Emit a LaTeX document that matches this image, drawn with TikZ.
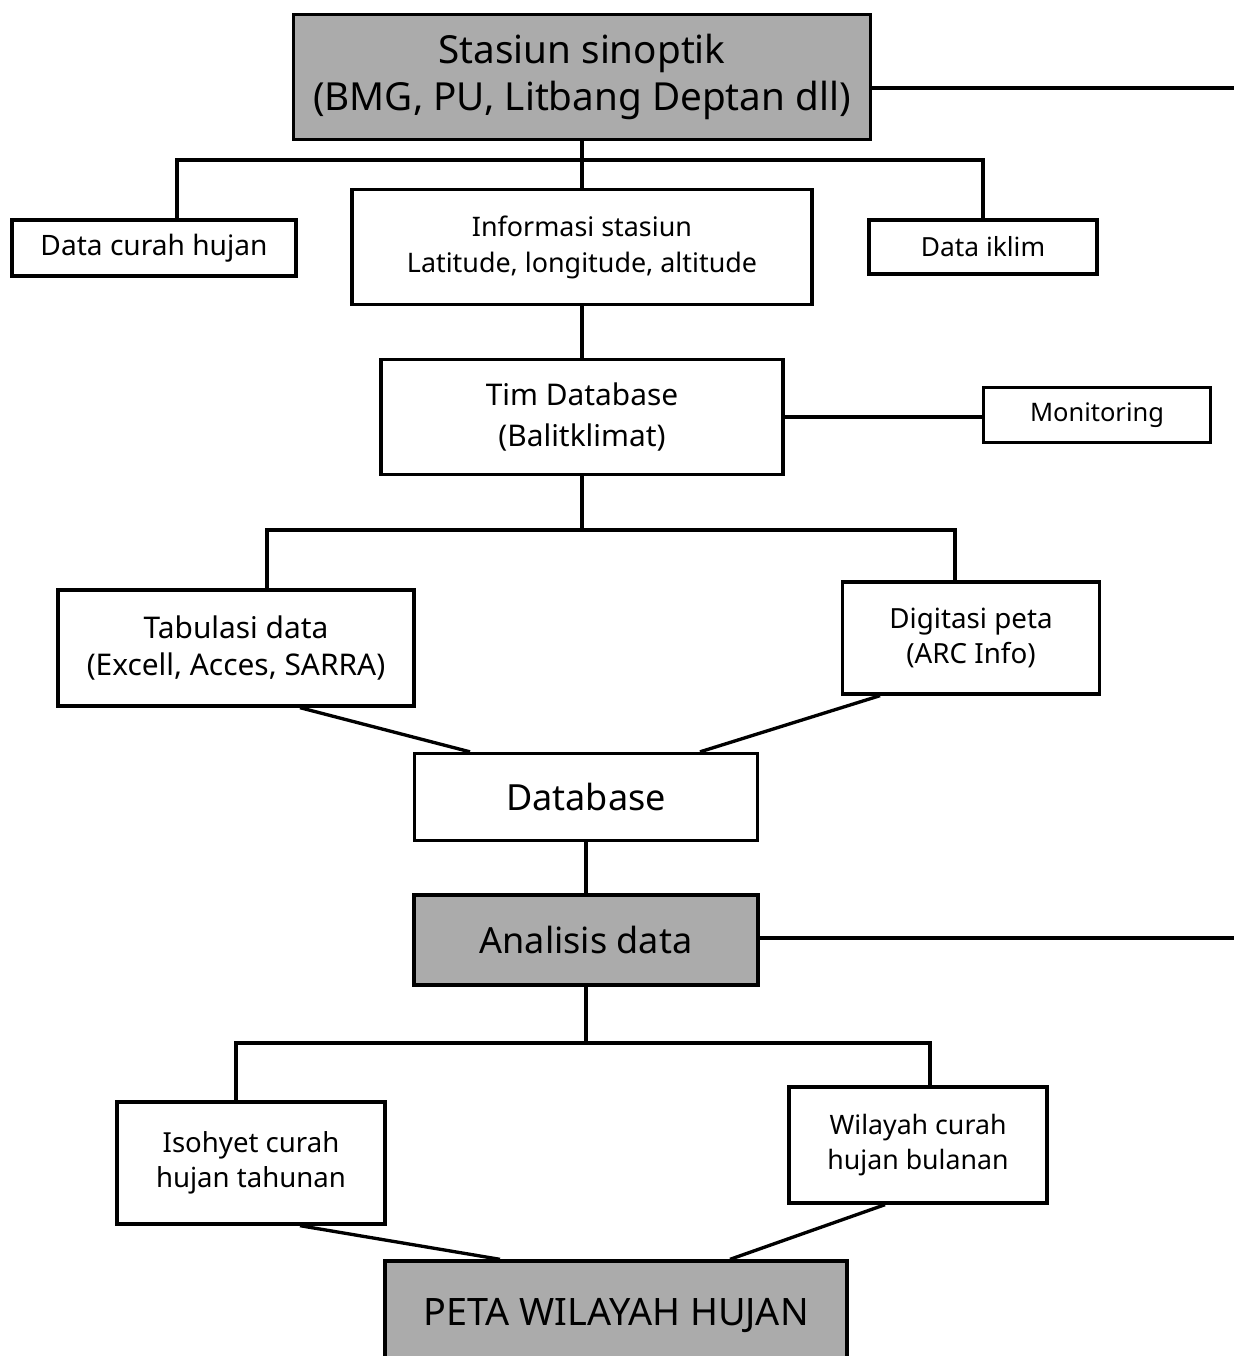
\documentclass[tikz,border=0pt]{standalone}
\usepackage{fontspec}
\setmainfont{Noto Sans}
\usetikzlibrary{positioning}

\tikzset{
  kotak/.style={draw,line width=1.9pt,align=center,inner sep=0pt},
  kotakabu/.style={kotak,fill=black!33},
  garis/.style={line width=1.9pt},
}
\newcommand{\ukuran}[2]{\fontsize{#1}{#2}\selectfont}

\begin{document}
\begin{tikzpicture}[x=0.02cm,y=-0.02cm]
  \useasboundingbox (0,0) rectangle (1234,1356);

  % baris atas
  \node[kotakabu,minimum width=11.54cm,minimum height=2.5cm,font=\ukuran{22}{27}] (stasiun) at (582,77)
    {Stasiun sinoptik\\(BMG, PU, Litbang Deptan dll)};
  \node[kotak,minimum width=5.68cm,minimum height=1.12cm,font=\ukuran{16}{20}] (curah) at (154,248) {Data curah hujan};
  \node[kotak,minimum width=9.2cm,minimum height=2.3cm,font=\ukuran{15.3}{20.5}] (info) at (582,247)
    {Informasi stasiun\\Latitude, longitude, altitude};
  \node[kotak,minimum width=4.56cm,minimum height=1.08cm,font=\ukuran{15}{20}] (iklim) at (983,247) {Data iklim};

  % tim database
  \node[kotak,minimum width=8.04cm,minimum height=2.3cm,font=\ukuran{17}{23}] (tim) at (582,417)
    {Tim Database\\(Balitklimat)};
  \node[kotak,minimum width=4.54cm,minimum height=1.1cm,font=\ukuran{14.5}{20}] (monitor) at (1097,415) {Monitoring};

  \node[kotak,minimum width=7.12cm,minimum height=2.32cm,font=\ukuran{17}{20.5}] (tabulasi) at (236,648)
    {Tabulasi data\\(Excell, Acces, SARRA)};
  \node[kotak,minimum width=5.14cm,minimum height=2.24cm,font=\ukuran{15.8}{19.5}] (digitasi) at (971,638)
    {Digitasi peta\\(ARC Info)};

  \node[kotak,minimum width=6.86cm,minimum height=1.74cm,font=\ukuran{20.5}{25}] (database) at (586,797) {Database};
  \node[kotakabu,minimum width=6.88cm,minimum height=1.8cm,font=\ukuran{20.5}{25}] (analisis) at (586,940) {Analisis data};

  % hasil
  \node[kotak,minimum width=5.36cm,minimum height=2.44cm,font=\ukuran{15.7}{20}] (isohyet) at (251,1163)
    {Isohyet curah\\hujan tahunan};
  \node[kotak,minimum width=5.16cm,minimum height=2.32cm,font=\ukuran{15.2}{20}] (wilayah) at (918,1145)
    {Wilayah curah\\hujan bulanan};
  \node[kotakabu,minimum width=9.24cm,minimum height=2.2cm,font=\ukuran{21.5}{26}] (peta) at (616,1316) {PETA WILAYAH HUJAN};

  \coordinate (tepi1) at (1234,88);
  \coordinate (tepi2) at (1234,938);
  \coordinate (bus1) at (582,160);
  \coordinate (bus2) at (582,530);
  \coordinate (bus3) at (586,1043);

  \draw[garis] (stasiun.east |- tepi1) -- (tepi1);
  \draw[garis] (stasiun.south) -- (info.north);
  \draw[garis] (curah.north -| 177,0) |- (bus1) -| (iklim.north);
  \draw[garis] (info.south) -- (tim.north);
  \draw[garis] (tim.east) -- (monitor.west |- tim.east);
  \draw[garis] (tim.south) -- (bus2);
  \draw[garis] (tabulasi.north -| 267,0) |- (bus2) -| (digitasi.north -| 955,0);
  \draw[garis] (tabulasi.south -| 300,0) -- (database.north -| 470,0);
  \draw[garis] (digitasi.south -| 880,0) -- (database.north -| 700,0);
  \draw[garis] (database.south) -- (analisis.north);
  \draw[garis] (analisis.east |- tepi2) -- (tepi2);
  \draw[garis] (analisis.south) -- (bus3);
  \draw[garis] (isohyet.north -| 236,0) |- (bus3) -| (wilayah.north -| 930,0);
  \draw[garis] (isohyet.south -| 300,0) -- (peta.north -| 500,0);
  \draw[garis] (wilayah.south -| 885,0) -- (peta.north -| 730,0);
\end{tikzpicture}
\end{document}
